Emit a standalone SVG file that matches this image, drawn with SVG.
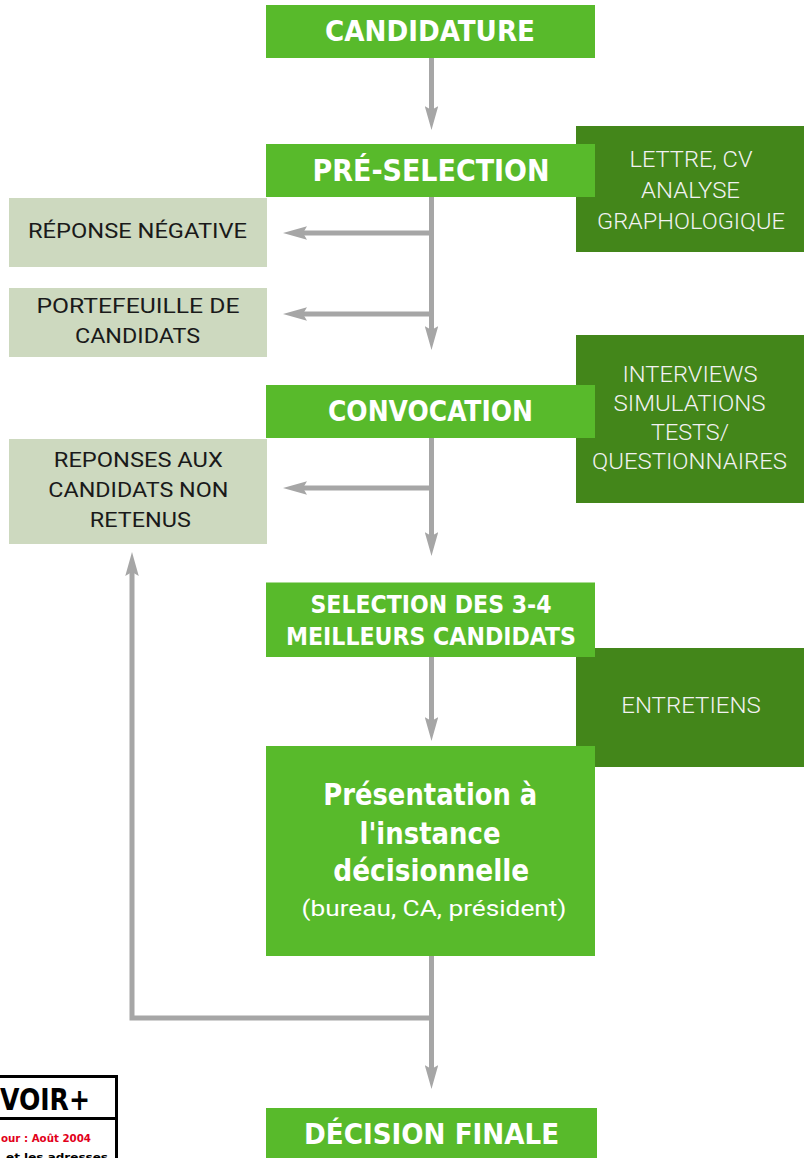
<svg xmlns="http://www.w3.org/2000/svg" width="806" height="1158" viewBox="0 0 806 1158">
<style>
.g{fill:#58BA2B}
.d{fill:#43861A}
.l{fill:#CDD9BF}
.tb{font-family:"DejaVu Sans Condensed","DejaVu Sans",sans-serif;font-weight:bold;fill:#FFFFFF;text-anchor:middle}
.tl{font-family:Roboto,"Liberation Sans",sans-serif;font-weight:300;fill:#F2F2F2;font-size:22px;text-anchor:middle}
.tk{font-family:Roboto,"Liberation Sans",sans-serif;font-weight:400;fill:#1A1A1A;font-size:21px;text-anchor:middle}
.c{fill:none;stroke:#A6A6A6;stroke-width:5;stroke-linejoin:miter}
</style>
<defs>
<marker id="ah" markerUnits="userSpaceOnUse" viewBox="0 0 24 13.5" markerWidth="24" markerHeight="13.5" refX="4" refY="6.75" orient="auto">
<path d="M0,0 L24,6.75 L0,13.5 L4,6.75 Z" fill="#A6A6A6"/>
</marker>
</defs>
<rect width="806" height="1158" fill="#FFFFFF"/>

<g id="side-lettre">
<rect class="d" x="576" y="126" width="228" height="126"/>
<text class="tl" x="691" y="167" textLength="123" lengthAdjust="spacingAndGlyphs">LETTRE, CV</text>
<text class="tl" x="690.5" y="198" textLength="99" lengthAdjust="spacingAndGlyphs">ANALYSE</text>
<text class="tl" x="691" y="228.5" textLength="188" lengthAdjust="spacingAndGlyphs">GRAPHOLOGIQUE</text>
</g>
<g id="side-interviews">
<rect class="d" x="576" y="335" width="228" height="168"/>
<text class="tl" x="690" y="382" textLength="135" lengthAdjust="spacingAndGlyphs">INTERVIEWS</text>
<text class="tl" x="689.5" y="411" textLength="152" lengthAdjust="spacingAndGlyphs">SIMULATIONS</text>
<text class="tl" x="690" y="440" textLength="78" lengthAdjust="spacingAndGlyphs">TESTS/</text>
<text class="tl" x="689.5" y="468.5" textLength="195" lengthAdjust="spacingAndGlyphs">QUESTIONNAIRES</text>
</g>
<g id="side-entretiens">
<rect class="d" x="576" y="648" width="228" height="119"/>
<text class="tl" x="691" y="713" textLength="139.5" lengthAdjust="spacingAndGlyphs">ENTRETIENS</text>
</g>

<g id="connectors">
<path class="c" d="M431.5,58 V110" marker-end="url(#ah)"/>
<path class="c" d="M431.5,197 V330" marker-end="url(#ah)"/>
<path class="c" d="M431.5,233 H303" marker-end="url(#ah)"/>
<path class="c" d="M431.5,314 H303" marker-end="url(#ah)"/>
<path class="c" d="M431.5,438 V536" marker-end="url(#ah)"/>
<path class="c" d="M431.5,488 H303" marker-end="url(#ah)"/>
<path class="c" d="M431.5,657 V721" marker-end="url(#ah)"/>
<path class="c" d="M431.5,956 V1069" marker-end="url(#ah)"/>
<path class="c" d="M431.5,1018 H132 V572" marker-end="url(#ah)"/>
</g>

<g id="candidature">
<rect class="g" x="266" y="5" width="329" height="53"/>
<text class="tb" x="430" y="41" font-size="28" textLength="210" lengthAdjust="spacingAndGlyphs">CANDIDATURE</text>
</g>
<g id="preselection">
<rect class="g" x="266" y="144" width="329" height="53"/>
<text class="tb" x="431" y="181" font-size="30" textLength="237" lengthAdjust="spacingAndGlyphs">PRÉ-SELECTION</text>
</g>
<g id="reponse-negative">
<rect class="l" x="9" y="198" width="258" height="69"/>
<text class="tk" x="137.5" y="238" textLength="219" lengthAdjust="spacingAndGlyphs">RÉPONSE NÉGATIVE</text>
</g>
<g id="portefeuille">
<rect class="l" x="9" y="288" width="258" height="69"/>
<text class="tk" x="138" y="313" textLength="203" lengthAdjust="spacingAndGlyphs">PORTEFEUILLE DE</text>
<text class="tk" x="137.5" y="343" textLength="125" lengthAdjust="spacingAndGlyphs">CANDIDATS</text>
</g>
<g id="convocation">
<rect class="g" x="266" y="385" width="329" height="53"/>
<text class="tb" x="430.5" y="421" font-size="28" textLength="205" lengthAdjust="spacingAndGlyphs">CONVOCATION</text>
</g>
<g id="reponses-non-retenus">
<rect class="l" x="9" y="439" width="258" height="105"/>
<text class="tk" x="138.3" y="467" textLength="169" lengthAdjust="spacingAndGlyphs">REPONSES AUX</text>
<text class="tk" x="138.3" y="497" textLength="180" lengthAdjust="spacingAndGlyphs">CANDIDATS NON</text>
<text class="tk" x="140.3" y="527" textLength="101" lengthAdjust="spacingAndGlyphs">RETENUS</text>
</g>
<g id="selection">
<rect class="g" x="266" y="582.5" width="329" height="74.5"/>
<text class="tb" x="431" y="613" font-size="25" textLength="241" lengthAdjust="spacingAndGlyphs">SELECTION DES 3-4</text>
<text class="tb" x="431" y="645" font-size="25" textLength="290" lengthAdjust="spacingAndGlyphs">MEILLEURS CANDIDATS</text>
</g>
<g id="presentation">
<rect class="g" x="266" y="746" width="329" height="210"/>
<text class="tb" x="430.3" y="805" font-size="30" textLength="214" lengthAdjust="spacingAndGlyphs">Présentation à</text>
<text class="tb" x="430" y="844" font-size="30" textLength="141" lengthAdjust="spacingAndGlyphs">l'instance</text>
<text class="tb" x="431.3" y="881" font-size="30" textLength="196" lengthAdjust="spacingAndGlyphs">décisionnelle</text>
<text x="434" y="916" font-family="Roboto,'Liberation Sans',sans-serif" font-size="22" fill="#FFFFFF" text-anchor="middle" textLength="265" lengthAdjust="spacingAndGlyphs">(bureau, CA, président)</text>
</g>
<g id="decision-finale">
<rect class="g" x="266" y="1108" width="331" height="50"/>
<text class="tb" x="431.6" y="1144" font-size="28" textLength="255" lengthAdjust="spacingAndGlyphs">DÉCISION FINALE</text>
</g>

<g id="voir-plus">
<rect x="-10" y="1076.5" width="126.5" height="100" fill="#FFFFFF" stroke="#000000" stroke-width="3"/>
<line x1="-10" y1="1118.5" x2="116.5" y2="1118.5" stroke="#000000" stroke-width="3"/>
<text x="0" y="1110" font-family="'DejaVu Sans Condensed','DejaVu Sans',sans-serif" font-weight="bold" font-size="30" fill="#000000" textLength="90" lengthAdjust="spacingAndGlyphs">VOIR+</text>
<text x="1" y="1142" font-family="'DejaVu Sans Condensed','DejaVu Sans',sans-serif" font-weight="bold" font-size="11" fill="#E2001A" textLength="90" lengthAdjust="spacingAndGlyphs">our : Août 2004</text>
<text x="6" y="1161" font-family="'DejaVu Sans Condensed','DejaVu Sans',sans-serif" font-weight="bold" font-size="11" fill="#000000" textLength="102" lengthAdjust="spacingAndGlyphs">et les adresses</text>
</g>
</svg>
